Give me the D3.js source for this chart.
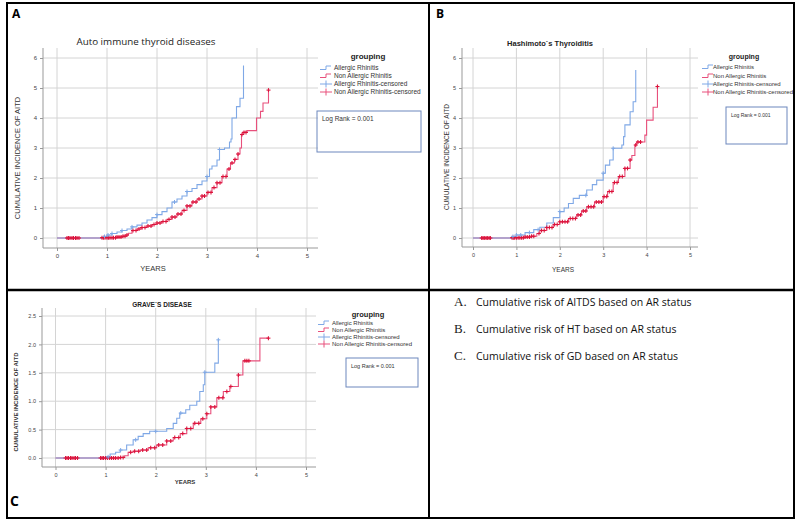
<!DOCTYPE html>
<html>
<head>
<meta charset="utf-8">
<script src="https://cdn.jsdelivr.net/npm/d3@7"></script>
<style>
  body { margin: 0; background: #fff; }
  svg { display: block; }
  text { font-family: "Liberation Sans", Arial, sans-serif; }
</style>
</head>
<body>
<svg id="chart" width="798" height="522"></svg>
<script>
// ---- data ----
const yearTicks = [0, 1, 2, 3, 4, 5];
const countTicks = [0, 1, 2, 3, 4, 5, 6];
const gdTicks = [0, 0.5, 1.0, 1.5, 2.0, 2.5];
const groupNames = ["Allergic Rhinitis", "Non Allergic Rhinitis", "Allergic Rhinitis-censored", "Non Allergic Rhinitis-censored"];
const captions = ["Cumulative risk of AITDS based on AR status", "Cumulative risk of HT based on AR status", "Cumulative risk of GD based on AR status"];
const captionLetters = ["A.", "B.", "C."];

// panel A - auto immune thyroid diseases  [years, cumulative incidence]
const aitdAllergic = [[0,0],[0.93,0.05],[1.0,0.1],[1.1,0.15],[1.2,0.2],[1.3,0.25],[1.4,0.3],[1.5,0.37],[1.6,0.43],[1.7,0.5],[1.8,0.6],[1.9,0.68],[2.0,0.78],[2.1,0.88],[2.2,1.0],[2.3,1.2],[2.4,1.3],[2.5,1.4],[2.6,1.55],[2.7,1.65],[2.8,1.78],[2.9,1.9],[3.0,2.05],[3.05,2.3],[3.1,2.4],[3.2,2.6],[3.25,2.95],[3.35,3.0],[3.45,3.2],[3.48,3.3],[3.5,4.0],[3.59,4.38],[3.66,4.66],[3.73,5.75]];
const aitdNonAllergic = [[0,0],[0.9,0.01],[1.2,0.03],[1.3,0.06],[1.38,0.1],[1.43,0.16],[1.5,0.25],[1.6,0.3],[1.7,0.35],[1.8,0.4],[1.9,0.45],[2.0,0.5],[2.1,0.55],[2.2,0.62],[2.3,0.7],[2.4,0.8],[2.5,0.92],[2.6,1.07],[2.7,1.2],[2.8,1.3],[2.9,1.4],[3.0,1.52],[3.1,1.68],[3.2,1.84],[3.3,2.05],[3.4,2.3],[3.47,2.5],[3.55,2.62],[3.62,2.8],[3.66,3.0],[3.69,3.45],[3.72,3.52],[3.8,3.58],[3.99,4.0],[4.07,4.22],[4.12,4.5],[4.23,4.93]];
const aitdAllergicCens = [0.95, 1.02, 1.1, 1.3, 1.5, 2.0, 2.35, 2.6, 3.0, 3.25];
const aitdNonAllergicCens = [0.2,0.23,0.26,0.3,0.33,0.37,0.4,0.44,0.9,0.93,0.96,1.0,1.03,1.06,1.1,1.13,1.17,1.2,1.24,1.28,1.32,1.36,1.4,1.52,1.58,1.64,1.7,1.76,1.82,1.88,1.94,2.0,2.06,2.12,2.18,2.24,2.3,2.36,2.42,2.48,2.54,2.6,2.66,2.72,2.78,2.84,2.9,2.95,3.02,3.08,3.14,3.2,3.26,3.32,3.38,3.44,3.5,3.56,3.62,3.7,3.74,3.78,4.23];

// panel B - Hashimoto's thyroiditis
const htAllergic = [[0,0],[0.89,0.05],[1.0,0.1],[1.2,0.18],[1.4,0.28],[1.54,0.36],[1.7,0.5],[1.85,0.68],[2.0,0.88],[2.1,1.0],[2.2,1.15],[2.31,1.32],[2.45,1.42],[2.62,1.6],[2.75,1.78],[2.85,1.93],[3.0,2.16],[3.05,2.43],[3.15,2.6],[3.23,2.99],[3.43,3.1],[3.47,3.38],[3.5,3.77],[3.62,4.21],[3.69,4.54],[3.75,5.6]];
const htNonAllergic = [[0,0],[0.9,0.01],[1.2,0.03],[1.35,0.06],[1.47,0.15],[1.54,0.25],[1.7,0.35],[1.85,0.45],[2.0,0.54],[2.2,0.65],[2.39,0.77],[2.5,0.9],[2.62,1.04],[2.8,1.2],[3.0,1.38],[3.1,1.55],[3.23,1.85],[3.35,2.05],[3.5,2.32],[3.62,2.6],[3.66,2.75],[3.73,3.1],[3.77,3.2],[3.96,3.43],[4.0,3.93],[4.15,4.36],[4.25,5.05]];
const htAllergicCens = [0.92, 1.0, 1.1, 1.3, 1.5, 2.0, 2.6, 3.0, 3.23];
const htNonAllergicCens = [0.2,0.23,0.26,0.3,0.33,0.37,0.4,0.9,0.93,0.96,1.0,1.04,1.08,1.12,1.16,1.2,1.25,1.3,1.35,1.4,1.52,1.58,1.64,1.7,1.76,1.82,1.88,1.94,2.0,2.06,2.12,2.18,2.24,2.3,2.36,2.42,2.48,2.54,2.6,2.66,2.72,2.78,2.84,2.9,2.96,3.02,3.08,3.14,3.2,3.26,3.32,3.38,3.44,3.5,3.56,3.62,3.75,3.8,3.86,4.25];

// panel C - Grave's disease
const gdAllergic = [[0,0],[1.02,0.02],[1.09,0.07],[1.2,0.1],[1.29,0.14],[1.42,0.23],[1.55,0.32],[1.65,0.38],[1.75,0.43],[1.88,0.47],[2.22,0.52],[2.35,0.61],[2.42,0.7],[2.48,0.79],[2.6,0.85],[2.68,0.93],[2.82,1.0],[2.88,1.17],[2.95,1.29],[2.98,1.51],[3.18,1.67],[3.25,2.08]];
const gdNonAllergic = [[0,0],[1.3,0.01],[1.38,0.04],[1.45,0.1],[1.55,0.12],[1.69,0.14],[1.85,0.18],[2.02,0.23],[2.22,0.3],[2.35,0.36],[2.49,0.43],[2.62,0.52],[2.75,0.61],[2.9,0.69],[3.02,0.78],[3.1,0.9],[3.22,1.06],[3.35,1.17],[3.48,1.26],[3.65,1.46],[3.74,1.71],[4.08,2.11],[4.25,2.11]];
const gdAllergicCens = [1.05, 1.3, 1.6, 2.0, 2.5, 2.98, 3.25];
const gdNonAllergicCens = [0.2,0.23,0.26,0.3,0.33,0.37,0.4,0.44,0.9,0.93,0.96,1.0,1.04,1.08,1.12,1.16,1.2,1.25,1.3,1.35,1.5,1.58,1.66,1.74,1.82,1.9,1.98,2.06,2.14,2.22,2.3,2.38,2.46,2.54,2.62,2.7,2.78,2.86,2.94,3.02,3.1,3.18,3.26,3.34,3.42,3.5,3.65,3.78,3.82,3.86,4.25];

const blue = "#7fa8e6", pinkLine = "#e8507c", redMark = "#dc143c";
const svg = d3.select("#chart");

// step value at time t (used to sit censor marks on the curve)
function stepAt(series, t) {
    let v = 0;
    series.forEach(p => { if (p[0] <= t) v = p[1]; });
    return v;
}

function drawPanel(p) {
    const g = svg.append("g");
    const x = d3.scaleLinear().domain([0, 5]).range([p.x0, p.x5]);
    const y = d3.scaleLinear().domain([0, p.ymax]).range([p.y0, p.ytop]);

    // grid
    g.selectAll(".vg").data(yearTicks).enter().append("line")
        .attr("x1", d => x(d)).attr("x2", d => x(d))
        .attr("y1", p.top).attr("y2", p.bottom)
        .attr("stroke", "#d4d4d4").attr("stroke-width", 1);
    g.selectAll(".hg").data(p.yTicks).enter().append("line")
        .attr("x1", p.left).attr("x2", p.right)
        .attr("y1", d => y(d)).attr("y2", d => y(d))
        .attr("stroke", "#d4d4d4").attr("stroke-width", 1);

    // axes
    const xa = g.append("g").attr("transform", "translate(0," + p.bottom + ")")
        .call(d3.axisBottom(x).tickValues(yearTicks).tickSize(3).tickPadding(3).tickFormat(d3.format("d")));
    const ya = g.append("g").attr("transform", "translate(" + p.left + ",0)")
        .call(d3.axisLeft(y).tickValues(p.yTicks).tickSize(3).tickPadding(3).tickFormat(p.fmt));
    [xa, ya].forEach(a => {
        a.select(".domain").remove();
        a.selectAll("line").attr("stroke", "#999");
        a.selectAll("text").attr("fill", "#444").style("font-size", p.tickSize + "px");
    });
    g.append("line").attr("x1", p.left).attr("x2", p.right).attr("y1", p.bottom).attr("y2", p.bottom)
        .attr("stroke", "#999");
    g.append("line").attr("x1", p.left).attr("x2", p.left).attr("y1", p.top).attr("y2", p.bottom)
        .attr("stroke", "#999");

    // curves
    const line = d3.line().x(d => x(d[0])).y(d => y(d[1])).curve(d3.curveStepAfter);
    g.append("path").datum(p.nonAllergic).attr("fill", "none").attr("stroke", pinkLine)
        .attr("stroke-width", 1.1).attr("d", line);
    g.append("path").datum(p.allergic).attr("fill", "none").attr("stroke", blue)
        .attr("stroke-width", 1.1).attr("d", line);

    // censor marks
    function crosses(times, series, color, w) {
        const c = g.append("g").attr("stroke", color).attr("stroke-width", w);
        times.forEach(t => {
            const cx = x(t), cy = y(stepAt(series, t));
            c.append("line").attr("x1", cx - 2).attr("x2", cx + 2).attr("y1", cy).attr("y2", cy);
            c.append("line").attr("x1", cx).attr("x2", cx).attr("y1", cy - 2).attr("y2", cy + 2);
        });
    }
    crosses(p.nonAllergicCens, p.nonAllergic, redMark, 1.1);
    crosses(p.allergicCens, p.allergic, blue, 1);

    // titles
    g.append("text").attr("x", p.titleX).attr("y", p.titleY).attr("text-anchor", "middle")
        .style("font-size", p.titleSize + "px").style("font-weight", p.titleBold ? "bold" : "normal")
        .style("font-family", p.titleFont).attr("fill", "#222").text(p.title);
    g.append("text").attr("x", p.yearsX).attr("y", p.yearsY).attr("text-anchor", "middle")
        .style("font-size", p.axisSize + "px").style("font-weight", p.axisBold ? "bold" : "normal")
        .attr("fill", "#333").text("YEARS");
    g.append("text").attr("transform", "translate(" + p.ytX + "," + p.ytY + ") rotate(-90)")
        .attr("text-anchor", "middle").style("font-size", p.axisSize + "px")
        .style("font-weight", p.axisBold ? "bold" : "normal").attr("fill", "#333")
        .text("CUMULATIVE INCIDENCE OF AITD");
    g.append("text").attr("x", p.letterX).attr("y", p.letterY)
        .style("font-size", p.letterSize + "px").style("font-weight", "bold")
        .style("font-family", "'Open Sans', sans-serif").attr("fill", "#000").text(p.letter);

    // legend
    const L = p.legend;
    g.append("text").attr("x", L.titleX).attr("y", L.titleY).attr("text-anchor", "middle")
        .style("font-size", L.titleSize + "px").style("font-weight", "bold").attr("fill", "#222")
        .text("grouping");
    groupNames.forEach((name, i) => {
        const cy = L.rows[i];
        const col = i % 2 === 0 ? blue : pinkLine;
        if (i < 2) {
            g.append("path").attr("fill", "none").attr("stroke", col).attr("stroke-width", 1)
                .attr("d", "M" + L.symX + "," + (cy + 1.5) + "H" + (L.symX + 6) + "V" + (cy - 2) + "H" + (L.symX + 11));
        } else {
            g.append("line").attr("x1", L.symX).attr("x2", L.symX + 12).attr("y1", cy).attr("y2", cy)
                .attr("stroke", col).attr("stroke-width", 1);
            g.append("line").attr("x1", L.symX + 6).attr("x2", L.symX + 6).attr("y1", cy - 3.5).attr("y2", cy + 3.5)
                .attr("stroke", col).attr("stroke-width", 1);
        }
        g.append("text").attr("x", L.textX).attr("y", cy).attr("dy", "0.35em")
            .style("font-size", L.size + "px").attr("fill", "#333").text(name);
    });
    g.append("rect").attr("x", L.box[0]).attr("y", L.box[1]).attr("width", L.box[2]).attr("height", L.box[3])
        .attr("fill", "none").attr("stroke", "#6d87bd").attr("stroke-width", 1);
    g.append("text").attr("x", L.box[0] + 5).attr("y", L.box[1] + 10)
        .style("font-size", L.boxSize + "px").attr("fill", "#333").text("Log Rank = 0.001");
}

document.addEventListener("DOMContentLoaded", function () {
    drawPanel({
        allergic: aitdAllergic, nonAllergic: aitdNonAllergic,
        allergicCens: aitdAllergicCens, nonAllergicCens: aitdNonAllergicCens,
        x0: 57, x5: 307, ymax: 6, y0: 238, ytop: 58, yTicks: countTicks, fmt: d3.format("d"),
        left: 43, right: 318, top: 48, bottom: 248, tickSize: 6,
        title: "Auto immune thyroid diseases", titleX: 146, titleY: 45, titleSize: 9.8, titleBold: false,
        titleFont: "'Open Sans', sans-serif",
        yearsX: 153, yearsY: 271, axisSize: 7.5, axisBold: false, ytX: 20, ytY: 158,
        letter: "A", letterX: 12, letterY: 18, letterSize: 12,
        legend: { titleX: 368, titleY: 59, titleSize: 8, rows: [68, 76, 84, 92], symX: 320, textX: 334, size: 6.5,
            box: [317, 111, 104, 41], boxSize: 6.5 }
    });
    drawPanel({
        allergic: htAllergic, nonAllergic: htNonAllergic,
        allergicCens: htAllergicCens, nonAllergicCens: htNonAllergicCens,
        x0: 473, x5: 690, ymax: 6, y0: 238, ytop: 58, yTicks: countTicks, fmt: d3.format("d"),
        left: 462, right: 698, top: 48, bottom: 247, tickSize: 5.5,
        title: "Hashimoto`s Thyroiditis", titleX: 550, titleY: 46, titleSize: 7.5, titleBold: true,
        titleFont: "'Liberation Sans Narrow', 'Liberation Sans', sans-serif",
        yearsX: 563, yearsY: 272, axisSize: 6.5, axisBold: false, ytX: 449, ytY: 157,
        letter: "B", letterX: 436, letterY: 18, letterSize: 12,
        legend: { titleX: 744, titleY: 59, titleSize: 7, rows: [67, 76, 84, 92], symX: 702, textX: 713, size: 6,
            box: [726, 107, 61, 37], boxSize: 5 }
    });
    drawPanel({
        allergic: gdAllergic, nonAllergic: gdNonAllergic,
        allergicCens: gdAllergicCens, nonAllergicCens: gdNonAllergicCens,
        x0: 55.5, x5: 306, ymax: 2.5, y0: 458, ytop: 316, yTicks: gdTicks, fmt: d3.format(".1f"),
        left: 42, right: 316, top: 308, bottom: 467, tickSize: 5.5,
        title: "GRAVE`S DISEASE", titleX: 162, titleY: 307, titleSize: 6.5, titleBold: true,
        titleFont: "'Liberation Sans', sans-serif",
        yearsX: 185, yearsY: 484, axisSize: 6, axisBold: true, ytX: 18, ytY: 402,
        letter: "C", letterX: 10, letterY: 506, letterSize: 14,
        legend: { titleX: 368, titleY: 317, titleSize: 7.5, rows: [323, 330, 337, 344], symX: 318, textX: 332, size: 6,
            box: [346, 358, 72, 29], boxSize: 5.5 }
    });

    // captions panel
    captions.forEach((c, i) => {
        const cy = 306 + i * 27;
        svg.append("text").attr("x", 454).attr("y", cy)
            .style("font-family", "'Liberation Serif', serif").style("font-size", "13px").attr("fill", "#222")
            .text(captionLetters[i]);
        svg.append("text").attr("x", 476).attr("y", cy)
            .style("font-family", "'Open Sans', sans-serif").style("font-size", "10.5px").attr("fill", "#111")
            .text(c);
    });

    // frame
    svg.append("rect").attr("x", 7).attr("y", 3).attr("width", 787).attr("height", 515)
        .attr("fill", "none").attr("stroke", "#000").attr("stroke-width", 2);
    svg.append("line").attr("x1", 429).attr("x2", 429).attr("y1", 3).attr("y2", 518)
        .attr("stroke", "#000").attr("stroke-width", 2);
    svg.append("line").attr("x1", 7).attr("x2", 794).attr("y1", 290).attr("y2", 290)
        .attr("stroke", "#000").attr("stroke-width", 2.5);
});
</script>
</body>
</html>
